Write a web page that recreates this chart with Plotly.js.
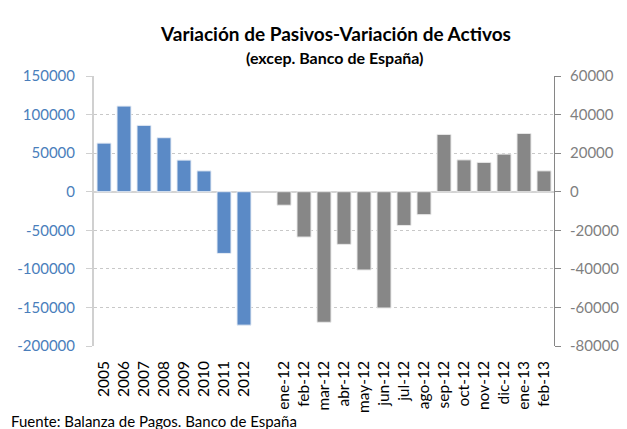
<!DOCTYPE html>
<html>
<head>
<meta charset="utf-8">
<script src="https://cdn.plot.ly/plotly-3.0.1.min.js"></script>
<style>html,body{margin:0;padding:0;background:#fff;}#chart{width:627px;height:429px;}</style>
</head>
<body>
<div id="chart"></div>
<script>
// Data
const years = ["2005","2006","2007","2008","2009","2010","2011","2012"];
const yearValues = [63000, 111000, 86000, 70000, 41000, 27000, -80000, -173000];
const gapCategory = [" "];
const months = ["ene-12","feb-12","mar-12","abr-12","may-12","jun-12","jul-12","ago-12","sep-12","oct-12","nov-12","dic-12","ene-13","feb-13"];
const monthValues = [-7000, -23500, -67700, -27300, -40600, -60300, -17500, -11900, 29700, 16500, 15200, 19500, 30200, 10800];
const leftTicks = [-200000, -150000, -100000, -50000, 0, 50000, 100000, 150000];
const rightTicks = [-80000, -60000, -40000, -20000, 0, 20000, 40000, 60000];
const titleText = "Variación de Pasivos-Variación de Activos";
const subtitleText = "(excep. Banco de España)";
const sourceText = "Fuente: Balanza de Pagos. Banco de España";

const allCats = years.concat(gapCategory).concat(months);
const FONT = "Lato, 'Open Sans', sans-serif";

const traces = [
  {type:"bar", x: years, y: yearValues, xaxis:"x", yaxis:"y",
   marker:{color:"#5B8AC6", line:{color:"#E6ECF5", width:1}}, width:0.7, hoverinfo:"x+y"},
  {type:"bar", x: months, y: monthValues, xaxis:"x", yaxis:"y2",
   marker:{color:"#878787", line:{color:"#E8E8E8", width:1}}, width:0.7, hoverinfo:"x+y"}
];

const layout = {
  width: 627, height: 429,
  margin: {l:94, r:73, t:76, b:83, pad:0},
  paper_bgcolor:"#fff", plot_bgcolor:"#fff",
  showlegend:false, barmode:"overlay",
  font:{family:FONT, color:"#000"},
  xaxis:{type:"category", categoryorder:"array", categoryarray: allCats,
    range:[-0.5, allCats.length-0.5], tickangle:-90, showgrid:false, showline:false,
    zeroline:false, ticks:"", tickfont:{size:15.5, color:"#000", family:FONT}, ticklabelstandoff:11,
    fixedrange:true},
  yaxis:{range:[-200000,150000], tickvals:leftTicks, ticktext:leftTicks.map(String),
    showgrid:true, gridcolor:"#C8C8C8", griddash:"dot", gridwidth:1,
    showline:true, linecolor:"#D0D0D0", linewidth:2, ticks:"outside", ticklen:6, tickcolor:"#D0D0D0",
    zeroline:true, zerolinecolor:"#D4D4D4", zerolinewidth:2,
    tickfont:{size:15, color:"#4A7EBB", family:FONT}, ticklabelstandoff:8},
  yaxis2:{range:[-80000,60000], tickvals:rightTicks, ticktext:rightTicks.map(String), overlaying:"y", side:"right",
    showgrid:false, showline:true, linecolor:"#868686", linewidth:1, ticks:"outside", ticklen:6, tickcolor:"#868686",
    zeroline:false, tickfont:{size:15, color:"#7F7F7F", family:FONT}, ticklabelstandoff:6},
  annotations:[
    {text:"<b>"+titleText+"</b>", xref:"paper", yref:"paper", x:0.524, y:1, yshift:43, xanchor:"center", yanchor:"middle",
     showarrow:false, font:{size:19, family:FONT, color:"#000"}},
    {text:"<b>"+subtitleText+"</b>", xref:"paper", yref:"paper", x:0.524, y:1, yshift:19, xanchor:"center", yanchor:"middle",
     showarrow:false, font:{size:16, family:FONT, color:"#000"}},
    {text:sourceText, xref:"paper", yref:"paper", x:-0.185, y:0, yshift:-75, xanchor:"left", yanchor:"middle",
     showarrow:false, font:{size:15, family:FONT, color:"#000"}}
  ]
};

Plotly.newPlot("chart", traces, layout, {displayModeBar:false, staticPlot:true});
</script>
</body>
</html>
